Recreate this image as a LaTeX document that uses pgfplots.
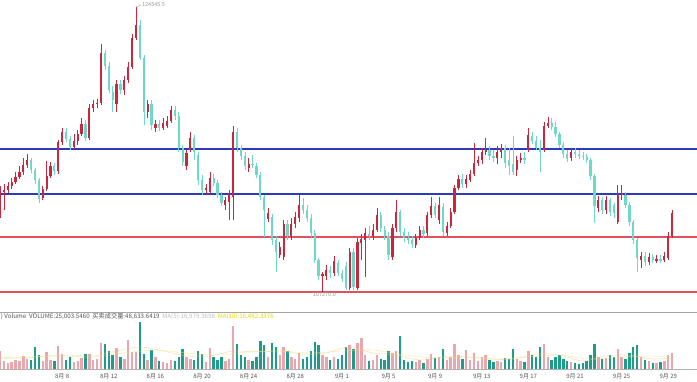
\documentclass[border=0pt]{standalone}
\usepackage{fontspec}
\setmainfont{Noto Sans CJK SC}
\usepackage{pgfplots}
\usepackage{pgfplotstable}
\pgfplotsset{compat=1.18}
\definecolor{upred}{HTML}{C7283E}
\definecolor{dnteal}{HTML}{6ED8C9}
\definecolor{vpink}{HTML}{E9A6AC}
\definecolor{vteal}{HTML}{1E9C8A}
\definecolor{lblue}{HTML}{2B3BBB}
\definecolor{lred}{HTML}{E2505E}
\definecolor{txtgray}{HTML}{555555}
\definecolor{maorange}{HTML}{F2C48A}
\definecolor{mayellow}{HTML}{E3DA00}

% price level (chart units, higher = higher price) and volume bar height
\pgfplotstableread{
i o c h l v
0 98 108 114 82 18
1 108 110 116 90 8
2 110 114 118 107 6
3 114 118 122 111 7
4 118 123 128 116 9
5 123 128 134 121 8
6 128 135 142 125 13
7 135 140 146 132 10
8 140 130 142 127 9
9 130 120 132 116 22
10 120 101 122 97 14
11 102 111 114 100 8
12 111 124 139 109 17
13 124 134 138 122 9
14 134 129 137 125 8
15 129 158 160 126 23
16 158 168 172 155 15
17 168 161 172 158 9
18 161 153 164 150 12
19 153 159 166 151 7
20 159 166 170 155 8
21 166 176 182 164 11
22 176 162 180 159 15
23 162 192 196 160 15
24 192 196 200 188 9
25 196 197 201 192 10
26 197 247 256 195 26
27 247 234 250 230 25
28 234 210 238 207 18
29 208 200 214 188 14
30 196 216 220 188 21
31 216 210 220 206 12
32 210 220 224 205 10
33 220 233 238 217 29
34 233 262 266 231 17
35 262 275 293 260 17
36 275 242 280 240 47
37 242 188 245 175 15
38 188 196 200 182 9
39 196 175 200 170 19
40 172 176 180 168 12
41 176 172 180 169 8
42 172 177 182 170 7
43 174 179 184 172 6
44 179 190 194 177 9
45 190 184 194 180 8
46 184 152 188 148 12
47 152 138 155 134 20
48 134 147 150 130 12
49 150 162 168 148 10
50 162 148 165 140 9
51 145 120 148 115 18
52 120 110 125 105 15
53 110 112 116 106 7
54 108 122 128 106 21
55 122 117 126 114 12
56 117 105 120 102 9
57 105 97 108 94 12
58 95 100 103 90 8
59 98 106 110 80 10
60 103 168 174 80 43
61 168 152 172 148 25
62 152 144 155 140 14
63 144 134 148 130 12
64 132 136 142 128 9
65 136 135 145 132 8
66 134 125 137 122 12
67 125 103 128 100 28
68 103 90 105 63 24
69 81 87 92 78 12
70 83 60 86 55 26
71 60 48 64 28 22
72 45 53 58 42 14
73 43 76 80 40 22
74 76 64 80 60 18
75 64 76 82 60 12
76 76 83 88 72 10
77 82 95 105 78 16
78 95 90 102 86 10
79 90 82 95 78 12
80 82 67 86 63 18
81 67 40 70 37 27
82 40 24 42 20 24
83 24 26 28 7 14
84 24 30 35 20 12
85 30 27 34 22 9
86 27 39 44 24 12
87 37 27 40 24 10
88 27 21 30 18 14
89 34 12 38 10 22
90 12 48 52 10 24
91 48 13 52 10 20
92 12 58 62 10 26
93 57 61 66 40 31
94 60 67 72 23 14
95 66 64 74 60 8
96 64 70 76 60 9
97 70 85 92 68 14
98 85 72 88 68 10
99 70 64 74 60 9
100 64 45 68 40 18
101 43 72 76 40 16
102 72 88 100 68 18
103 88 68 90 64 33
104 68 62 72 58 9
105 62 60 68 56 7
106 60 56 64 52 8
107 55 62 66 52 7
108 62 70 74 60 9
109 70 66 74 62 6
110 67 85 88 64 10
111 85 94 103 82 15
112 94 85 97 82 11
113 80 95 103 76 12
114 93 68 97 64 20
115 67 74 78 64 9
116 74 88 92 72 12
117 88 112 115 86 25
118 112 121 125 110 14
119 121 116 126 112 10
120 116 121 125 112 19
121 120 126 130 118 9
122 126 137 157 124 16
123 137 140 144 134 8
124 140 148 152 136 12
125 148 150 162 145 14
126 150 144 154 140 9
127 144 142 150 138 7
128 142 148 154 136 8
129 148 152 156 142 7
130 152 137 155 132 11
131 140 134 152 125 10
132 136 128 164 125 20
133 130 140 144 124 10
134 140 142 147 137 8
135 142 140 148 136 7
136 150 165 172 148 18
137 164 159 168 156 14
138 159 152 164 150 12
139 152 148 160 128 22
140 150 174 178 148 25
141 174 177 183 172 12
142 177 173 182 170 9
143 173 166 178 163 12
144 166 155 168 152 14
145 155 146 158 142 10
146 146 141 150 138 8
147 142 148 152 139 7
148 148 146 152 142 6
149 146 144 150 141 5
150 144 143 148 140 6
151 143 140 146 137 8
152 140 124 142 120 14
153 124 94 126 77 25
154 92 100 104 88 12
155 100 90 103 86 10
156 90 100 104 86 11
157 100 88 102 84 14
158 95 87 97 82 12
159 78 105 115 76 20
160 105 107 115 100 12
161 105 95 108 92 10
162 95 78 98 74 16
163 78 60 80 56 22
164 60 42 62 28 24
165 40 44 48 32 12
166 44 38 48 34 9
167 38 43 47 35 8
168 43 40 46 37 6
169 40 41 45 37 6
170 41 40 45 37 7
171 40 44 48 38 8
172 42 64 68 40 14
173 64 87 90 62 16
}\candles

% volume moving averages
\pgfplotstableread{
i m
0 12
6 11
12 13
18 14
24 13
30 18
36 22
42 18
48 13
54 13
60 18
66 17
72 18
78 15
84 16
90 22
96 16
102 14
108 9
114 12
120 12
126 10
132 10
138 15
144 14
150 8
156 13
162 14
168 10
173 11
}\maA
\pgfplotstableread{
i m
0 10
8 12
16 13
24 12
32 16
40 19
48 16
56 14
64 17
72 18
80 16
88 18
96 19
104 14
112 11
120 12
128 10
136 12
144 14
152 10
160 12
168 13
173 12
}\maB

\pgfplotsset{
  vbar/.style 2 args={draw=none, mark=none, forget plot,
    error bars/.cd, y dir=both, y explicit, error mark=none,
    error bar style={line width=#1, draw=#2}},
}
\tikzset{datelab/.style={text=txtgray, inner sep=0pt, font=\fontsize{6}{6.5}\selectfont}}

\newcommand{\vbase}{-69}

\begin{document}
\begin{tikzpicture}[x=1pt,y=1pt]
\useasboundingbox (0,0) rectangle (697,381);
\fill[white] (0,0) rectangle (697,381);
\begin{axis}[
  at={(0,0)}, anchor=south west,
  width=697pt, height=381pt, scale only axis,
  xmin=0, xmax=179.4, ymin=-81, ymax=300,
  hide axis, clip mode=individual,
]
% support / resistance lines
\addplot[lblue, line width=1.1pt, forget plot] coordinates {(0,151) (179.4,151)};
\addplot[lblue, line width=1.1pt, forget plot] coordinates {(0,106) (179.4,106)};
\addplot[lred, line width=1.1pt, forget plot] coordinates {(0,63) (179.4,63)};
\addplot[lred, line width=1.1pt, forget plot] coordinates {(0,8) (179.4,8)};
% panel separator and volume baseline
\addplot[gray!70, line width=0.7pt, forget plot] coordinates {(0,-12) (179.4,-12)};
\addplot[gray!60, line width=0.6pt, forget plot] coordinates {(0,\vbase) (179.4,\vbase)};
% wicks
\addplot[vbar={0.5pt}{upred}] table[x=i, y expr={\thisrow{c}>=\thisrow{o} ? 0.5*(\thisrow{h}+\thisrow{l}) : nan}, y error expr={0.5*(\thisrow{h}-\thisrow{l})}] {\candles};
\addplot[vbar={0.5pt}{dnteal}] table[x=i, y expr={\thisrow{c}<\thisrow{o} ? 0.5*(\thisrow{h}+\thisrow{l}) : nan}, y error expr={0.5*(\thisrow{h}-\thisrow{l})}] {\candles};
% bodies
\addplot[vbar={2.2pt}{upred}] table[x=i, y expr={\thisrow{c}>=\thisrow{o} ? 0.5*(\thisrow{o}+\thisrow{c}) : nan}, y error expr={max(0.5*abs(\thisrow{c}-\thisrow{o}),0.6)}] {\candles};
\addplot[vbar={2.2pt}{dnteal}] table[x=i, y expr={\thisrow{c}<\thisrow{o} ? 0.5*(\thisrow{o}+\thisrow{c}) : nan}, y error expr={max(0.5*abs(\thisrow{c}-\thisrow{o}),0.6)}] {\candles};
% volume bars
\addplot[vbar={2.4pt}{vpink}] table[x=i, y expr={\thisrow{c}>=\thisrow{o} ? \vbase+0.5*\thisrow{v} : nan}, y error expr={0.5*\thisrow{v}}] {\candles};
\addplot[vbar={2.4pt}{vteal}] table[x=i, y expr={\thisrow{c}<\thisrow{o} ? \vbase+0.5*\thisrow{v} : nan}, y error expr={0.5*\thisrow{v}}] {\candles};
\addplot[maorange, line width=0.4pt, opacity=0.7, smooth, forget plot] table[x=i, y expr={\vbase+\thisrow{m}}] {\maA};
\addplot[mayellow!60, line width=0.4pt, opacity=0.7, smooth, forget plot] table[x=i, y expr={\vbase+\thisrow{m}}] {\maB};
% extreme labels
\draw[gray!70, line width=0.4pt] (axis cs:35,293) -- (axis cs:36.4,295);
\node[anchor=west, inner sep=0.5pt, text=gray!80, font=\fontsize{5.5}{6}\selectfont] at (axis cs:36.4,295) {124545.5};
\node[anchor=north, inner sep=0.5pt, text=gray!80, font=\fontsize{5.5}{6}\selectfont] at (axis cs:83.5,8) {107270.0};
% volume legend
\node[anchor=west, inner sep=0pt, font=\fontsize{6.2}{7}\selectfont] at (axis cs:0.2,-16)
  {\textcolor{txtgray}{)\ Volume\ \ VOLUME:25,003.5460\ \ 买卖成交量:48,633.6419}\ \ \textcolor{gray!50}{MA(5):16,979.3698}\ \ \textcolor{mayellow}{MA(10):16,482.3376}};
% date labels
\node[datelab] at (axis cs:16,-76) {8月 8};
\node[datelab] at (axis cs:28,-76) {8月 12};
\node[datelab] at (axis cs:40,-76) {8月 16};
\node[datelab] at (axis cs:52,-76) {8月 20};
\node[datelab] at (axis cs:64,-76) {8月 24};
\node[datelab] at (axis cs:76,-76) {8月 28};
\node[datelab] at (axis cs:88,-76) {9月 1};
\node[datelab] at (axis cs:100,-76) {9月 5};
\node[datelab] at (axis cs:112,-76) {9月 9};
\node[datelab] at (axis cs:124,-76) {9月 13};
\node[datelab] at (axis cs:136,-76) {9月 17};
\node[datelab] at (axis cs:148,-76) {9月 21};
\node[datelab] at (axis cs:160,-76) {9月 25};
\node[datelab] at (axis cs:172,-76) {9月 29};
\end{axis}
\end{tikzpicture}
\end{document}
